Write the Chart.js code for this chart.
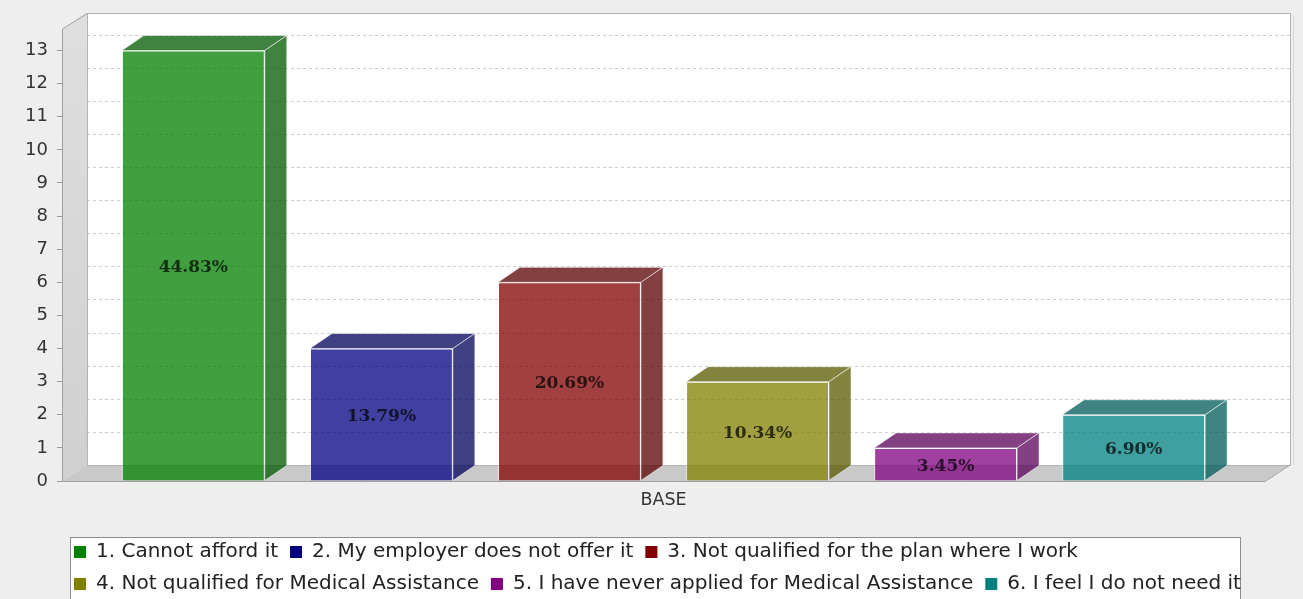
<!DOCTYPE html>
<html>
<head>
<meta charset="utf-8">
<script src="https://cdn.jsdelivr.net/npm/chart.js@4/dist/chart.umd.min.js"></script>
<style>
  html, body { margin: 0; padding: 0; background: #eeeeee; overflow: hidden; }
  #wrap { width: 1303px; height: 604px; }
</style>
</head>
<body>
<div id="wrap"><canvas id="reasons"></canvas></div>
<script>
// survey answers, counted per reason
const categories = ['BASE'];
const seriesNames = [
    '1. Cannot afford it',
    '2. My employer does not offer it',
    '3. Not qualified for the plan where I work',
    '4. Not qualified for Medical Assistance',
    '5. I have never applied for Medical Assistance',
    '6. I feel I do not need it'
];
const seriesCounts = [13, 4, 6, 3, 1, 2];
const seriesColors = ['#008000', '#000080', '#800000', '#808000', '#800080', '#008080'];
const yMax = 13.65;

const total = seriesCounts.reduce((a, b) => a + b, 0);

function rgba(hex, alpha, shade) {
    const n = parseInt(hex.slice(1), 16);
    const f = shade || 1;
    const r = Math.round(((n >> 16) & 255) * f);
    const g = Math.round(((n >> 8) & 255) * f);
    const b = Math.round((n & 255) * f);
    return 'rgba(' + r + ',' + g + ',' + b + ',' + alpha + ')';
}

// depth of the walls and of the boxes
const wallDx = 25, wallDy = 16;
const barDx = 22, barDy = 15;

const box3d = {
    id: 'box3d',
    beforeDraw(chart) {
        // white frame behind the legend
        const ctx = chart.ctx;
        const lg = chart.legend;
        const x = lg.left + 8;
        const y = lg.top + 7;
        ctx.save();
        ctx.fillStyle = '#ffffff';
        ctx.strokeStyle = '#8c8c8c';
        ctx.lineWidth = 1;
        ctx.fillRect(x, y, lg.right - 25 - x, lg.bottom + 20 - y);
        ctx.strokeRect(x + 0.5, y + 0.5, lg.right - 25 - x, lg.bottom + 20 - y);
        ctx.restore();
    },
    beforeDatasetsDraw(chart) {
        const ctx = chart.ctx;
        const a = chart.chartArea;
        const yScale = chart.scales.y;
        const w = a.right - a.left, h = a.bottom - a.top;
        ctx.save();

        // back wall
        ctx.fillStyle = '#ffffff';
        ctx.fillRect(a.left + wallDx, a.top - wallDy, w, h);

        // dashed grid on the back wall
        ctx.strokeStyle = '#cccccc';
        ctx.lineWidth = 1;
        ctx.setLineDash([3, 3]);
        yScale.ticks.forEach(t => {
            if (t.value === 0) return;
            const py = Math.round(yScale.getPixelForValue(t.value) - wallDy) + 0.5;
            ctx.beginPath();
            ctx.moveTo(a.left + wallDx, py);
            ctx.lineTo(a.right + wallDx, py);
            ctx.stroke();
        });
        ctx.setLineDash([]);

        // left wall
        const grad = ctx.createLinearGradient(0, a.top, 0, a.bottom);
        grad.addColorStop(0, '#dedede');
        grad.addColorStop(1, '#d0d0d0');
        ctx.fillStyle = grad;
        ctx.beginPath();
        ctx.moveTo(a.left, a.top);
        ctx.lineTo(a.left + wallDx, a.top - wallDy);
        ctx.lineTo(a.left + wallDx, a.bottom - wallDy);
        ctx.lineTo(a.left, a.bottom);
        ctx.closePath();
        ctx.fill();

        // floor
        ctx.fillStyle = '#c9c9c9';
        ctx.beginPath();
        ctx.moveTo(a.left, a.bottom);
        ctx.lineTo(a.left + wallDx, a.bottom - wallDy);
        ctx.lineTo(a.right + wallDx, a.bottom - wallDy);
        ctx.lineTo(a.right, a.bottom);
        ctx.closePath();
        ctx.fill();

        // outlines
        ctx.strokeStyle = '#b4b4b4';
        ctx.strokeRect(a.left + wallDx + 0.5, a.top - wallDy + 0.5, w, h);
        ctx.strokeStyle = '#d8d8d8';
        ctx.beginPath();
        ctx.moveTo(a.right + wallDx + 3.5, a.top - wallDy + 2);
        ctx.lineTo(a.right + wallDx + 3.5, a.bottom - wallDy);
        ctx.stroke();
        ctx.strokeStyle = '#a0a0a0';
        ctx.beginPath();
        ctx.moveTo(a.left + wallDx, a.top - wallDy + 0.5);
        ctx.lineTo(a.left + 0.5, a.top);
        ctx.lineTo(a.left + 0.5, a.bottom + 0.5);
        ctx.lineTo(a.right, a.bottom + 0.5);
        ctx.lineTo(a.right + wallDx, a.bottom - wallDy);
        ctx.stroke();
        ctx.restore();
    },
    afterDatasetsDraw(chart) {
        const ctx = chart.ctx;
        ctx.save();
        chart.data.datasets.forEach((ds, i) => {
            const el = chart.getDatasetMeta(i).data[0];
            if (!el) return;
            const x1 = el.x - el.width / 2, x2 = el.x + el.width / 2;
            const top = el.y, bot = el.base;
            const dark = rgba(seriesColors[i], 0.75, 0.7);
            ctx.strokeStyle = 'rgba(255,255,255,0.55)';
            ctx.lineWidth = 1;

            // top face
            ctx.fillStyle = dark;
            ctx.beginPath();
            ctx.moveTo(x1, top);
            ctx.lineTo(x1 + barDx, top - barDy);
            ctx.lineTo(x2 + barDx, top - barDy);
            ctx.lineTo(x2, top);
            ctx.closePath();
            ctx.fill();
            ctx.stroke();

            // right face
            ctx.beginPath();
            ctx.moveTo(x2, top);
            ctx.lineTo(x2 + barDx, top - barDy);
            ctx.lineTo(x2 + barDx, bot - barDy);
            ctx.lineTo(x2, bot);
            ctx.closePath();
            ctx.fill();
            ctx.stroke();

            // percentage in the middle of the front face
            const pct = (seriesCounts[i] / total * 100).toFixed(2) + '%';
            ctx.font = 'bold 17px "DejaVu Serif"';
            ctx.fillStyle = 'rgba(0,0,0,0.72)';
            ctx.textAlign = 'center';
            ctx.textBaseline = 'middle';
            ctx.fillText(pct, el.x, (top + bot) / 2 + 2);
        });
        ctx.restore();
    }
};

const ctx = document.getElementById('reasons').getContext('2d');
const reasonsChart = new Chart(ctx, {
    type: 'bar',
    data: {
        labels: categories,
        datasets: seriesNames.map((name, i) => ({
            label: name,
            data: [seriesCounts[i]],
            backgroundColor: rgba(seriesColors[i], 0.75),
            borderColor: 'rgba(255,255,255,0.55)',
            borderWidth: 1,
            categoryPercentage: 0.938,
            barPercentage: 0.76
        }))
    },
    options: {
        responsive: true,
        maintainAspectRatio: false,
        animation: false,
        layout: { padding: { top: 29, right: 38, left: 0, bottom: 0 } },
        scales: {
            x: {
                grid: { display: false, drawTicks: false },
                border: { display: false },
                ticks: { color: '#333', padding: 9, font: { family: 'DejaVu Sans', size: 17.5 } },
                afterFit: (scale) => { scale.height = 49; }
            },
            y: {
                min: 0,
                max: yMax,
                grid: { drawOnChartArea: false, tickLength: 5, color: '#999' },
                border: { display: false },
                ticks: {
                    stepSize: 1,
                    includeBounds: false,
                    padding: 9,
                    color: '#333',
                    font: { family: 'DejaVu Sans', size: 18 }
                },
                afterFit: (scale) => { scale.width = 62; }
            }
        },
        plugins: {
            tooltip: { enabled: false },
            legend: {
                position: 'bottom',
                align: 'start',
                fullSize: false,
                labels: {
                    boxWidth: 12,
                    boxHeight: 12,
                    padding: 12,
                    color: '#222',
                    font: { family: 'DejaVu Sans', size: 20 },
                    generateLabels: (chart) =>
                        Chart.defaults.plugins.legend.labels.generateLabels(chart).map((item, i) => ({
                            ...item,
                            fillStyle: seriesColors[i],
                            strokeStyle: seriesColors[i],
                            lineWidth: 0
                        }))
                }
            }
        }
    },
    plugins: [box3d]
});
</script>
</body>
</html>
